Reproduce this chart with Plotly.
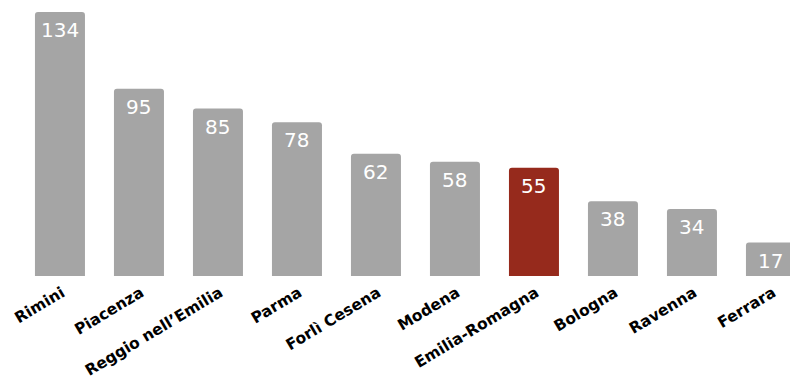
import plotly.graph_objects as go

categories = ["Rimini", "Piacenza", "Reggio nell\u2019Emilia", "Parma", "Forl\u00ec Cesena",
              "Modena", "Emilia-Romagna", "Bologna", "Ravenna", "Ferrara"]
values = [134, 95, 85, 78, 62, 58, 55, 38, 34, 17]
highlight = "Emilia-Romagna"

GRAY = "#a5a5a5"
RED = "#962a1c"
colors = [RED if c == highlight else GRAY for c in categories]

fig = go.Figure()
fig.add_trace(go.Bar(
    x=categories, y=values,
    marker=dict(color=colors, line=dict(width=0), cornerradius=3),
    width=0.633,
    hoverinfo="skip",
))

for c, v in zip(categories, values):
    fig.add_annotation(
        x=c, y=v, text=str(v), showarrow=False,
        yanchor="top", yshift=-4,
        font=dict(family="DejaVu Sans", size=20, color="white"),
    )

fig.update_layout(
    width=790, height=381,
    margin=dict(l=0, r=0, t=0, b=105),
    paper_bgcolor="white", plot_bgcolor="white",
    showlegend=False,
    xaxis=dict(
        range=[-0.759, 9.241],
        tickangle=-31,
        tickfont=dict(family="DejaVu Sans", size=15.5, color="black", weight="bold"),
        showline=False, showgrid=False, zeroline=False,
        ticks="", ticklabelshift=2, ticklabelstandoff=4,
        automargin=False,
        fixedrange=True,
    ),
    yaxis=dict(
        range=[0, 140.1], visible=False, fixedrange=True,
    ),
)

fig.write_html("out.html")
